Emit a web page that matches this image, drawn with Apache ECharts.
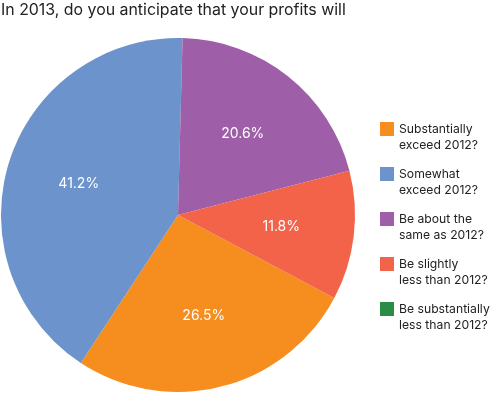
<!DOCTYPE html>
<html><head><meta charset="utf-8">
<script src="https://cdn.jsdelivr.net/npm/echarts@6/dist/echarts.min.js"></script>
<style>html,body{margin:0;padding:0;background:#fff}#c{width:491px;height:393px}</style>
</head><body><div id="c"></div>
<script>
const titleText = 'In 2013, do you anticipate that your profits will';
const categories = ['Substantially\nexceed 2012?', 'Somewhat\nexceed 2012?', 'Be about the\nsame as 2012?', 'Be slightly\nless than 2012?', 'Be substantially\nless than 2012?'];
const values = [26.5, 41.2, 20.6, 11.8, 0];
const colors = ['#F58D1F', '#6C93CB', '#9E5FA8', '#F2634A', '#2B8C45'];

const data = categories.map((c, i) => ({ name: c, value: values[i], itemStyle: { color: colors[i] } }));
const chart = echarts.init(document.getElementById('c'), null, { renderer: 'canvas' });
chart.setOption({
  animation: false,
  title: { text: titleText, left: 1, top: 2, padding: 0,
    textStyle: { fontFamily: 'Inter', fontSize: 15.9, fontWeight: 'normal', color: '#222' } },
  legend: {
    orient: 'vertical', left: 380, top: 105, padding: 0,
    itemWidth: 14, itemHeight: 14, itemGap: -3, icon: 'rect',
    data: categories,
    formatter: name => '\n' + name,
    textStyle: { fontFamily: 'Inter', fontSize: 12.2, color: '#222', lineHeight: 16 }
  },
  series: [{
    type: 'pie', center: [178, 215], radius: 177, startAngle: -28, clockwise: true,
    silent: true, data: data,
    label: { show: false }, labelLine: { show: false }
  }, {
    type: 'pie', center: [178, 215], radius: 202, startAngle: -28, clockwise: true,
    silent: true, data: data.map(d => ({ name: d.name, value: d.value, itemStyle: { color: 'rgba(0,0,0,0)' } })),
    legendHoverLink: false,
    label: { show: true, position: 'inside', color: '#fff', fontFamily: 'Inter', fontSize: 14,
      formatter: p => p.value > 0 ? p.value.toFixed(1) + '%' : '' },
    labelLine: { show: false }
  }]
});
</script></body></html>
